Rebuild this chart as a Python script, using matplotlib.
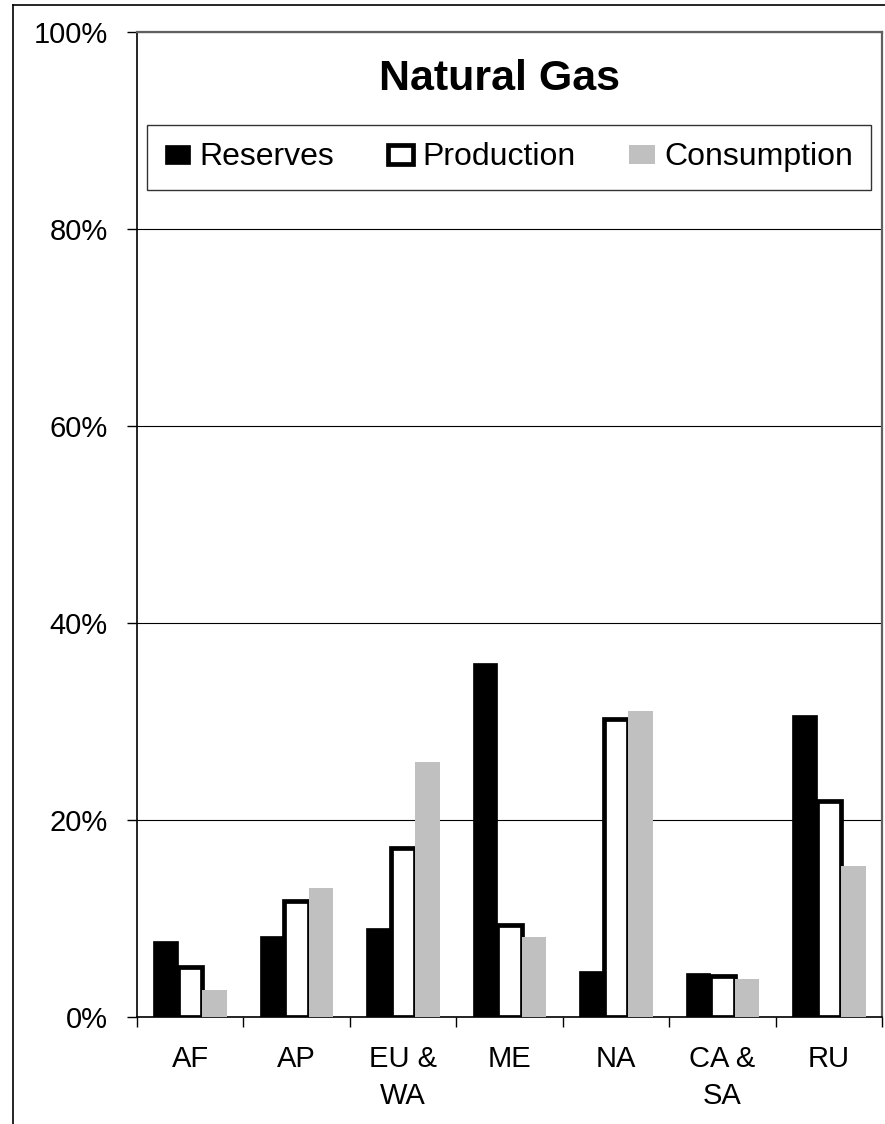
import matplotlib
matplotlib.use("Agg")
import matplotlib.pyplot as plt
from matplotlib.lines import Line2D
import numpy as np

plt.rcParams["font.family"] = ["Liberation Sans", "DejaVu Sans"]

regions = ["AF", "AP", "EU &\nWA", "ME", "NA", "CA &\nSA", "RU"]
reserves = [7.7, 8.2, 9.0, 35.9, 4.7, 4.5, 30.7]
production = [5.1, 11.8, 17.2, 9.3, 30.3, 4.2, 21.9]
consumption = [2.7, 13.1, 25.9, 8.1, 31.1, 3.9, 15.3]
yticks = [0, 20, 40, 60, 80, 100]
ytick_labels = ["0%", "20%", "40%", "60%", "80%", "100%"]

fig = plt.figure(figsize=(8.85, 11.24), dpi=100)
ax = fig.add_axes([137 / 885, 1 - 1017 / 1124, 745 / 885, 985 / 1124])

x = np.arange(len(regions))
w = 0.23
ax.bar(x - w, reserves, w, color="black", edgecolor="black", lw=0.5,
       label="Reserves", zorder=3)
ax.bar(x, production, w, color="white", edgecolor="black", lw=3.4,
       label="Production", zorder=3)
ax.bar(x + w, consumption, w, color="#c0c0c0", lw=0,
       label="Consumption", zorder=3)

ax.set_xlim(-0.5, len(regions) - 0.5)
ax.set_ylim(0, 100)
ax.set_yticks(yticks)
ax.set_yticklabels(ytick_labels, fontsize=21)
ax.tick_params(axis="y", length=7, width=1, pad=14, color="black")
ax.set_xticks(np.arange(len(regions) + 1) - 0.5)
ax.set_xticklabels([])
ax.set_xticks(x, minor=True)
ax.set_xticklabels(regions, minor=True, fontsize=21, linespacing=1.4)
ax.tick_params(axis="x", which="major", length=7.5, width=1, direction="out")
ax.tick_params(axis="x", which="minor", length=0, pad=20)
ax.grid(axis="y", color="black", lw=0.8, zorder=0)
ax.set_axisbelow(True)

for side in ("left", "bottom"):
    ax.spines[side].set_color("black")
    ax.spines[side].set_linewidth(1.2)
for side in ("top", "right"):
    ax.spines[side].set_color("#606060")
    ax.spines[side].set_linewidth(1.6)

ax.text(0.487, 0.952, "Natural Gas", transform=ax.transAxes, ha="center",
        va="center", fontsize=31, fontweight="bold")

leg = ax.legend(loc="lower left", bbox_to_anchor=(0.0134, 0.8396, 0.9718, 0.067),
                mode="expand", ncol=3, fontsize=23, frameon=True, fancybox=False,
                edgecolor="black", borderpad=0.55, handlelength=0.8,
                handleheight=0.55, handletextpad=0.3, borderaxespad=0)
leg.get_frame().set_linewidth(1.0)

# outer chart-area border (cropped)
fig.add_artist(Line2D([13 / 885, 13 / 885], [0, 1 - 5 / 1124], color="black", lw=1.2))
fig.add_artist(Line2D([13 / 885, 1], [1 - 5 / 1124, 1 - 5 / 1124], color="black", lw=1.2))

fig.savefig("out.png", dpi=100)
